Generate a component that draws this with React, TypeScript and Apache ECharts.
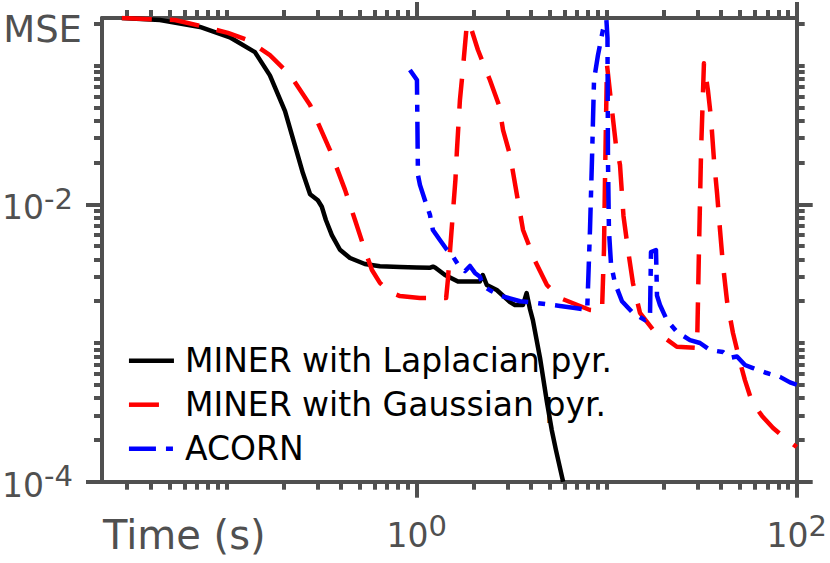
import React, { useEffect, useRef } from 'react';
import * as echarts from 'echarts';

const seriesNames = ['MINER with Laplacian pyr.', 'MINER with Gaussian pyr.', 'ACORN'];
const seriesColors = ['#000000', '#ff0000', '#0000ff'];

// [time (s), MSE]
const laplacianPoints: [number, number][] = [
  [0.0281, 0.22], [0.0446, 0.213], [0.0724, 0.19], [0.104, 0.16], [0.141, 0.125],
  [0.169, 0.085], [0.203, 0.047], [0.229, 0.0265], [0.252, 0.0168], [0.275, 0.0118],
  [0.302, 0.0107], [0.317, 0.0096], [0.333, 0.0077], [0.358, 0.006], [0.395, 0.0047],
  [0.446, 0.0041], [0.534, 0.00371], [0.641, 0.00357], [0.817, 0.00353], [1.0, 0.0035],
  [1.18, 0.00349], [1.22, 0.00355], [1.25, 0.0035], [1.41, 0.00309], [1.65, 0.00277],
  [2.15, 0.00277], [2.23, 0.00309], [2.34, 0.00262], [2.64, 0.00241], [3.1, 0.00197],
  [3.29, 0.00188], [3.63, 0.00188], [3.79, 0.00229], [3.95, 0.00175], [4.09, 0.00146],
  [4.46, 0.00078], [4.85, 0.000375], [5.14, 0.000236], [5.41, 0.000169], [5.9, 0.0001],
];

const gaussianPoints: [number, number][] = [
  [0.0281, 0.22], [0.0534, 0.213], [0.0769, 0.19], [0.1016, 0.172], [0.129, 0.153],
  [0.169, 0.119], [0.216, 0.0855], [0.275, 0.052], [0.35, 0.0246], [0.42, 0.0127],
  [0.474, 0.0077], [0.534, 0.00468], [0.582, 0.00336], [0.641, 0.00271], [0.724, 0.00233],
  [0.817, 0.00218], [1.04, 0.00211], [1.43, 0.00211], [1.46, 0.00284], [1.5, 0.0047],
  [1.6, 0.015], [1.63, 0.0246], [1.69, 0.0565], [1.75, 0.093], [1.84, 0.203],
  [1.91, 0.196], [2.1, 0.13], [2.43, 0.0787], [2.71, 0.052], [2.85, 0.0343],
  [3.1, 0.0227], [3.63, 0.00653], [4.2, 0.0039], [4.85, 0.00262], [5.68, 0.00211],
  [8.17, 0.00173], [9.45, 0.0017], [9.68, 0.0047], [9.8, 0.015], [9.92, 0.0405],
  [10.04, 0.101], [10.66, 0.048], [11.19, 0.0268], [11.75, 0.0193], [12.26, 0.00824],
  [12.95, 0.0047], [13.75, 0.0027], [14.97, 0.00165], [17.53, 0.00125], [23.4, 0.00094],
  [29.9, 0.00092], [30.6, 0.0047], [31.4, 0.0246], [32.5, 0.104], [34.1, 0.0667],
  [35.4, 0.0418], [36.7, 0.0209], [38.1, 0.012], [39.5, 0.0065], [40.9, 0.0037],
  [43.0, 0.002], [46.2, 0.00118], [50.3, 0.00073], [53.4, 0.00054], [58.2, 0.000375],
  [65.7, 0.000298], [75.1, 0.000244], [88.9, 0.0002], [100, 0.000178],
];

const acornPoints: [number, number][] = [
  [0.922, 0.093], [1.004, 0.0787], [1.016, 0.0163], [1.041, 0.0138], [1.106, 0.0107],
  [1.175, 0.0084], [1.218, 0.00653], [1.326, 0.00553], [1.443, 0.0047], [1.553, 0.0042],
  [1.69, 0.0035], [1.8, 0.0033], [1.908, 0.00359], [2.027, 0.0032], [2.154, 0.003],
  [2.23, 0.0026], [2.43, 0.0024], [2.74, 0.0022], [3.1, 0.0021], [3.5, 0.002],
  [3.95, 0.00197], [4.85, 0.0019], [5.68, 0.00185], [6.81, 0.00179], [7.9, 0.00173],
  [8.17, 0.00653], [8.37, 0.0209], [8.58, 0.0787], [9.0, 0.119], [9.56, 0.181],
  [9.97, 0.213], [10.1, 0.158], [10.16, 0.0209], [10.28, 0.0065], [10.54, 0.0037],
  [11.06, 0.0027], [12.04, 0.002], [13.75, 0.00165], [15.91, 0.00146], [16.9, 0.0015],
  [17.11, 0.00453], [18.18, 0.00468], [18.4, 0.0022], [19.08, 0.00188], [20.77, 0.00146],
  [23.44, 0.0012], [27.44, 0.00105], [30.98, 0.001], [34.97, 0.00089], [40.94, 0.00086],
  [44.57, 0.00078], [48.52, 0.0008], [53.44, 0.000694], [58.88, 0.00066], [68.94, 0.00061],
  [81.68, 0.00057], [92.2, 0.00052], [100, 0.0005],
];

const xMin = 0.0221;
const xMax = 100;
const yMin = 0.0001;
const yMax = 0.2203;

const xMajorTicks = [1, 100];
const xMinorTicks = [
  0.03, 0.04, 0.05, 0.06, 0.07, 0.08, 0.09, 0.1,
  0.2, 0.3, 0.4, 0.5, 0.6, 0.7, 0.8, 0.9,
  2, 3, 4, 5, 6, 7, 8, 9, 10,
  20, 30, 40, 50, 60, 70, 80, 90,
];
const xLabelValues = [1, 100];

const yMajorTicks = [0.0001, 0.01];
const yMinorTicks = [
  0.0002, 0.0003, 0.0004, 0.0005, 0.0006, 0.0007, 0.0008, 0.0009, 0.001,
  0.002, 0.003, 0.004, 0.005, 0.006, 0.007, 0.008, 0.009,
  0.02, 0.03, 0.04, 0.05, 0.06, 0.07, 0.08, 0.09, 0.1, 0.2,
];
const yLabelValues = [0.0001, 0.01, 0.2];
const yTopLabel = 'MSE';
const xTitle = 'Time (s)';

const FONT = 'DejaVu Sans';
const GRAY = '#505050';
const LW = 4.5;

function expLabel(v: number) {
  const e = Math.round(Math.log10(v));
  return `{b|10}{s|${e}}`;
}

export default function App() {
  const ref = useRef<HTMLDivElement>(null);

  useEffect(() => {
    if (!ref.current) return;
    const chart = echarts.init(ref.current, undefined, { renderer: 'svg' });

    const tickLine = { color: GRAY, width: 4 };
    const baseRich = { fontSize: 33, lineHeight: 40, verticalAlign: 'bottom', fontFamily: FONT, color: GRAY };
    const mkX = (position: string, major: boolean, withLabel: boolean, showLine: boolean) => ({
      type: 'log',
      position,
      min: xMin,
      max: xMax,
      logBase: 10,
      axisLine: { show: showLine, onZero: false, lineStyle: { color: GRAY, width: 4 } },
      axisTick: {
        show: true,
        customValues: major ? xMajorTicks : xMinorTicks,
        length: major ? 16 : 8,
        lineStyle: tickLine,
      },
      axisLabel: withLabel
        ? {
            show: true,
            customValues: xLabelValues,
            margin: 30,
            color: GRAY,
            fontFamily: FONT,
            formatter: (v: number) => expLabel(v),
            rich: {
              b: baseRich,
              s: { fontSize: 29, lineHeight: 30, verticalAlign: 'top', padding: [0, 0, 19, 0], fontFamily: FONT, color: GRAY },
            },
          }
        : { show: false },
      splitLine: { show: false },
      minorTick: { show: false },
      minorSplitLine: { show: false },
      silent: true,
    });
    const mkY = (position: string, major: boolean, withLabel: boolean, showLine: boolean) => ({
      type: 'log',
      position,
      min: yMin,
      max: yMax,
      logBase: 10,
      axisLine: { show: showLine, onZero: false, lineStyle: { color: GRAY, width: 4 } },
      axisTick: {
        show: true,
        customValues: major ? yMajorTicks : yMinorTicks,
        length: major ? 16 : 8,
        lineStyle: tickLine,
      },
      axisLabel: withLabel
        ? {
            show: true,
            customValues: yLabelValues,
            margin: 20,
            color: GRAY,
            fontFamily: FONT,
            formatter: (v: number) => (Math.abs(v - 0.2) < 1e-6 ? `{m|${yTopLabel}}` : expLabel(v)),
            rich: {
              b: baseRich,
              s: { fontSize: 29, lineHeight: 30, verticalAlign: 'top', padding: [0, 9, 19, 0], fontFamily: FONT, color: GRAY },
              m: { fontSize: 37, lineHeight: 40, padding: [11, 0, 0, 0], fontFamily: FONT, color: GRAY },
            },
          }
        : { show: false },
      splitLine: { show: false },
      minorTick: { show: false },
      minorSplitLine: { show: false },
      silent: true,
    });

    const pointSets = [laplacianPoints, gaussianPoints, acornPoints];
    const dashes: any[] = ['solid', [30, 18], [27, 10, 7, 10]];

    chart.setOption({
      animation: false,
      textStyle: { fontFamily: FONT },
      grid: { left: 102, top: 18, right: 33.3, bottom: 81.3, containLabel: false, outerBoundsMode: 'none' },
      xAxis: [mkX('bottom', true, true, true), mkX('bottom', false, false, false), mkX('top', true, false, true), mkX('top', false, false, false)],
      yAxis: [mkY('left', true, true, true), mkY('left', false, false, false), mkY('right', true, false, true), mkY('right', false, false, false)],
      legend: {
        show: true,
        orient: 'vertical',
        left: 126.7,
        top: 344.2,
        padding: 0,
        itemWidth: 45,
        itemHeight: 32,
        itemGap: 11,
        selectedMode: false,
        data: seriesNames,
        itemStyle: { opacity: 0, borderWidth: 0 },
        lineStyle: { width: LW },
        textStyle: { fontSize: 33, color: '#000', fontFamily: FONT, padding: [0, 0, 0, 6] },
      },
      graphic: [
        {
          type: 'text',
          x: 103,
          y: 535,
          style: { text: xTitle, fontSize: 40, fontFamily: FONT, fill: GRAY, align: 'left', verticalAlign: 'middle' },
        },
      ],
      series: seriesNames.map((name, i) => ({
        name,
        type: 'line',
        xAxisIndex: 0,
        yAxisIndex: 0,
        data: pointSets[i],
        showSymbol: false,
        symbol: 'none',
        clip: true,
        color: seriesColors[i],
        itemStyle: { color: seriesColors[i] },
        lineStyle: { color: seriesColors[i], width: LW, type: dashes[i], cap: 'butt', join: 'round' },
        silent: true,
      })),
    });

    return () => chart.dispose();
  }, []);

  return <div ref={ref} style={{ position: 'absolute', left: 0, top: 0, width: 830, height: 563 }} />;
}
